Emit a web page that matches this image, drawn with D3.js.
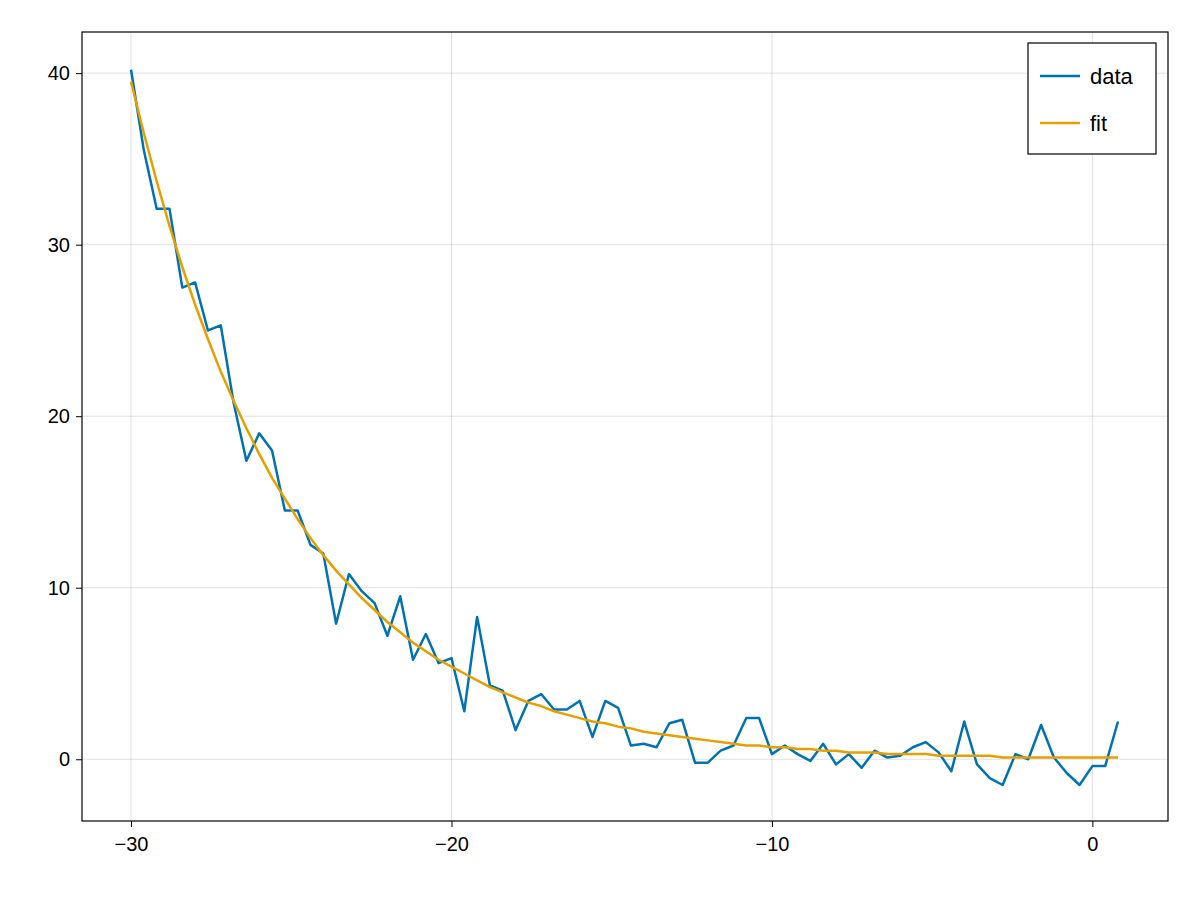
<!DOCTYPE html>
<html>
<head>
<meta charset="utf-8">
<script src="https://cdn.jsdelivr.net/npm/d3@7"></script>
<style>
  body { margin: 0; background: #fff; }
  text { font-family: "Liberation Sans", Arial, sans-serif; }
</style>
</head>
<body>
<div id="chart"></div>
<script>
// x runs from -30 in steps of 0.4
const xValues = d3.range(78).map(i => +(-30 + 0.4 * i).toFixed(1));
const dataValues = [
  40.2, 35.5, 32.1, 32.1, 27.5, 27.8, 25.0, 25.3, 20.8, 17.4,
  19.0, 18.0, 14.5, 14.5, 12.5, 12.0, 7.9, 10.8, 9.8, 9.1,
  7.2, 9.5, 5.8, 7.3, 5.6, 5.9, 2.8, 8.3, 4.3, 4.0,
  1.7, 3.4, 3.8, 2.9, 2.9, 3.4, 1.3, 3.4, 3.0, 0.8,
  0.9, 0.7, 2.1, 2.3, -0.2, -0.2, 0.5, 0.8, 2.4, 2.4,
  0.3, 0.8, 0.3, -0.1, 0.9, -0.3, 0.3, -0.5, 0.5, 0.1,
  0.2, 0.7, 1.0, 0.4, -0.7, 2.2, -0.3, -1.1, -1.5, 0.3,
  0.0, 2.0, 0.1, -0.8, -1.5, -0.4, -0.4, 2.2
];
const fitValues = [
  39.5, 36.5, 33.7, 31.1, 28.7, 26.5, 24.5, 22.6, 20.9, 19.3,
  17.8, 16.4, 15.2, 14.0, 12.9, 11.9, 11.0, 10.2, 9.4, 8.7,
  8.0, 7.4, 6.8, 6.3, 5.8, 5.4, 5.0, 4.6, 4.2, 3.9,
  3.6, 3.3, 3.1, 2.8, 2.6, 2.4, 2.2, 2.1, 1.9, 1.8,
  1.6, 1.5, 1.4, 1.3, 1.2, 1.1, 1.0, 0.9, 0.8, 0.8,
  0.7, 0.7, 0.6, 0.6, 0.5, 0.5, 0.4, 0.4, 0.4, 0.3,
  0.3, 0.3, 0.3, 0.2, 0.2, 0.2, 0.2, 0.2, 0.1, 0.1,
  0.1, 0.1, 0.1, 0.1, 0.1, 0.1, 0.1, 0.1
];
const xTicks = [-30, -20, -10, 0];
const yTicks = [0, 10, 20, 30, 40];
const seriesNames = ["data", "fit"];
const seriesColors = ["#0072b2", "#e69f00"];

const W = 1200, H = 900;
const pLeft = 82, pRight = 1168, pTop = 32, pBottom = 821;

const svg = d3.select("#chart").append("svg")
  .attr("width", W).attr("height", H);

const x = d3.scaleLinear().domain([-31.53, 2.36]).range([pLeft, pRight]);
const y = d3.scaleLinear().domain([-3.6, 42.4]).range([pBottom, pTop]);

// grid
svg.append("g").selectAll("line").data(xTicks).enter().append("line")
  .attr("x1", d => x(d)).attr("x2", d => x(d))
  .attr("y1", pTop).attr("y2", pBottom)
  .attr("stroke", "rgba(0,0,0,0.12)").attr("stroke-width", 1);
svg.append("g").selectAll("line").data(yTicks).enter().append("line")
  .attr("y1", d => y(d)).attr("y2", d => y(d))
  .attr("x1", pLeft).attr("x2", pRight)
  .attr("stroke", "rgba(0,0,0,0.12)").attr("stroke-width", 1);

// axes
const xAxis = svg.append("g")
  .attr("transform", `translate(0,${pBottom})`)
  .call(d3.axisBottom(x).tickValues(xTicks).tickSize(6).tickPadding(6));
const yAxis = svg.append("g")
  .attr("transform", `translate(${pLeft},0)`)
  .call(d3.axisLeft(y).tickValues(yTicks).tickSize(6).tickPadding(6));
[xAxis, yAxis].forEach(a => {
  a.select(".domain").remove();
  a.selectAll("text").attr("font-size", 20).attr("fill", "#000")
    .style("font-family", "'Liberation Sans', Arial, sans-serif");
  a.selectAll("line").attr("stroke", "#000");
});
xAxis.selectAll("text").attr("dy", "0.9em");

// clip
svg.append("clipPath").attr("id", "clip").append("rect")
  .attr("x", pLeft).attr("y", pTop).attr("width", pRight - pLeft).attr("height", pBottom - pTop);

const line = d3.line().x(d => x(d[0])).y(d => y(d[1]));
[dataValues, fitValues].forEach((vals, k) => {
  svg.append("path")
    .datum(xValues.map((xv, i) => [xv, vals[i]]))
    .attr("clip-path", "url(#clip)")
    .attr("d", line)
    .attr("fill", "none")
    .attr("stroke", seriesColors[k])
    .attr("stroke-width", 2.5)
    .attr("stroke-linejoin", "round");
});

// frame
svg.append("rect")
  .attr("x", pLeft).attr("y", pTop).attr("width", pRight - pLeft).attr("height", pBottom - pTop)
  .attr("fill", "none").attr("stroke", "#000").attr("stroke-width", 1.2);

// legend
const lg = svg.append("g");
lg.append("rect").attr("x", 1028).attr("y", 43).attr("width", 128).attr("height", 111)
  .attr("fill", "#fff").attr("stroke", "#000").attr("stroke-width", 1.2);
seriesNames.forEach((name, i) => {
  const cy = 76 + i * 47;
  lg.append("line").attr("x1", 1040).attr("x2", 1080).attr("y1", cy).attr("y2", cy)
    .attr("stroke", seriesColors[i]).attr("stroke-width", 2.5);
  lg.append("text").attr("x", 1090).attr("y", cy).attr("dy", "0.35em")
    .attr("font-size", 22).text(name);
});
</script>
</body>
</html>
